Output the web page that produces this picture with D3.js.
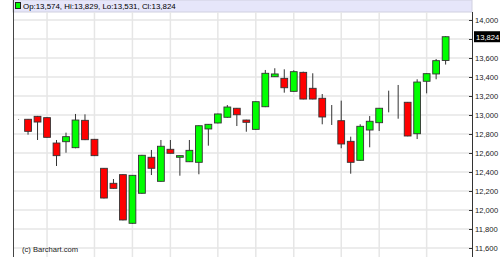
<!DOCTYPE html>
<html><head><meta charset="utf-8">
<script src="https://cdn.jsdelivr.net/npm/d3@7/dist/d3.min.js"></script>
<style>
html,body{margin:0;padding:0;background:#fff;}
svg{display:block;}
text{font-family:"Liberation Sans",Arial,sans-serif;}
</style></head>
<body>
<svg id="chart" width="500" height="257"></svg>
<script>
// ---- data ----
const opens  = [12955,12955,12986,12972,12705,12719,12656,12944,12744,12439,12281,12372,11860,12176,12555,12302,12639,12555,12508,12502,12853,12916,12976,13071,12947,12849,13087,13403,13386,13249,13449,13281,13176,12913,12940,12723,12523,12842,12919,13087,13140,13134,12803,13355,13432,13574];
const highs  = [12958,12958,12990,12975,12737,12814,13011,13007,12748,12442,12326,12375,12368,12580,12632,12737,12737,12575,12737,12890,12905,13014,13105,13074,12950,13143,13474,13492,13481,13471,13456,13439,13221,13105,13151,12772,12902,12989,13074,13256,13316,13137,13376,13438,13589,13829];
const lows   = [12952,12793,12737,12762,12463,12603,12650,12736,12568,12122,12225,11891,11856,12172,12368,12298,12595,12361,12505,12376,12677,12912,12972,12884,12824,12845,13083,13400,13235,13245,13165,13165,12902,12895,12650,12382,12519,12660,12832,13028,12961,12776,12747,13228,13376,13531];
const closes = [12955,12828,12926,12765,12572,12772,12947,12740,12572,12126,12228,11895,12365,12576,12439,12671,12597,12572,12628,12887,12902,13011,13084,13003,12923,13140,13439,13432,13287,13456,13168,13168,12979,12913,12695,12502,12881,12934,13071,13087,13140,12779,13347,13435,13572,13824];
const yTicks = [11600,11800,12000,12200,12400,12600,12800,13000,13200,13400,13600,13800,14000];
const gridIdx = [3,8,12,16,21,25,29,34,38,43];
const legendText = "Op:13,574, Hi:13,829, Lo:13,531, Cl:13,824";
const credit = "(c) Barchart.com";

const candles = opens.map((o,i)=>({i, o, h:highs[i], l:lows[i], c:closes[i]}));
const last = candles[candles.length-1];

// ---- layout ----
const L = 13, R = 472, T = 12;
const svg = d3.select("#chart");
const x = d3.scaleLinear().domain([-0.585, 47.78]).range([L, R]);
const y = d3.scaleLinear().domain([11600, 14000]).range([248, 20]);
const fmt = d3.format(",");

// header band
svg.append("rect").attr("x", L).attr("y", 0).attr("width", R-L).attr("height", T)
  .attr("fill", "#e6e6fa").attr("stroke", "#d0d0e0").attr("stroke-width", 1);

// gridlines
const g = svg.append("g");
g.selectAll("line.h").data(yTicks).join("line")
  .attr("x1", L).attr("x2", R).attr("y1", d=>y(d)).attr("y2", d=>y(d))
  .attr("stroke", "#e6e6e6").attr("stroke-width", 1.5);
g.selectAll("line.v").data(gridIdx).join("line")
  .attr("x1", d=>x(d)).attr("x2", d=>x(d)).attr("y1", T).attr("y2", 257)
  .attr("stroke", "#e6e6e6").attr("stroke-width", 1.5);

// axes lines
svg.append("line").attr("x1", L+0.5).attr("x2", L+0.5).attr("y1", 0).attr("y2", 257)
  .attr("stroke", "#444").attr("stroke-width", 1);

// right axis
const yAxis = d3.axisRight(y).tickValues(yTicks).tickSize(0).tickPadding(3).tickFormat(fmt);
const ax = svg.append("g").attr("transform", `translate(${R},0)`).call(yAxis);
ax.select(".domain").remove();
ax.selectAll("text").attr("font-size", 7.6).attr("fill", "#222");
ax.selectAll(".tick").append("line").attr("x1", -3).attr("x2", 0).attr("stroke", "#333");
svg.append("line").attr("x1", R+0.5).attr("x2", R+0.5).attr("y1", T).attr("y2", 257)
  .attr("stroke", "#333").attr("stroke-width", 1);
// hide the tick label under the last-price marker
ax.selectAll(".tick").filter(d=>d===13800).select("text").remove();

// candles
const cg = svg.append("g");
const bw = 6.8;
cg.selectAll("line.wick").data(candles).join("line")
  .attr("x1", d=>x(d.i)).attr("x2", d=>x(d.i))
  .attr("y1", d=>y(d.h)).attr("y2", d=>y(d.l))
  .attr("stroke", "#333").attr("stroke-width", 1);
cg.selectAll("rect.body").data(candles).join("rect")
  .attr("x", d=>x(d.i)-bw/2)
  .attr("y", d=>y(Math.max(d.o,d.c)))
  .attr("width", bw)
  .attr("height", d=>Math.abs(y(d.o)-y(d.c)))
  .attr("fill", d=>d.c>d.o ? "#00ff00" : (d.c<d.o ? "#ff0000" : "#333"))
  .attr("stroke", "#333").attr("stroke-width", 0.9);

// last price marker
const lp = svg.append("g").attr("transform", `translate(${R+2},${y(last.c)})`);
lp.append("rect").attr("x", 0).attr("y", -5.5).attr("width", 26).attr("height", 11).attr("fill", "#000");
lp.append("text").attr("x", 2).attr("y", 3).attr("font-size", 7.6).attr("fill", "#fff").text(fmt(last.c));

// legend
svg.append("rect").attr("x", 15.5).attr("y", 2.5).attr("width", 5).attr("height", 6)
  .attr("fill", "#00ff00").attr("stroke", "#222").attr("stroke-width", 1);
svg.append("text").attr("x", 23).attr("y", 9).attr("font-size", 7.9).attr("fill", "#000").text(legendText);

// credit
svg.append("text").attr("x", 22).attr("y", 252).attr("font-size", 7.6).attr("fill", "#222").text(credit);
</script>
</body></html>
